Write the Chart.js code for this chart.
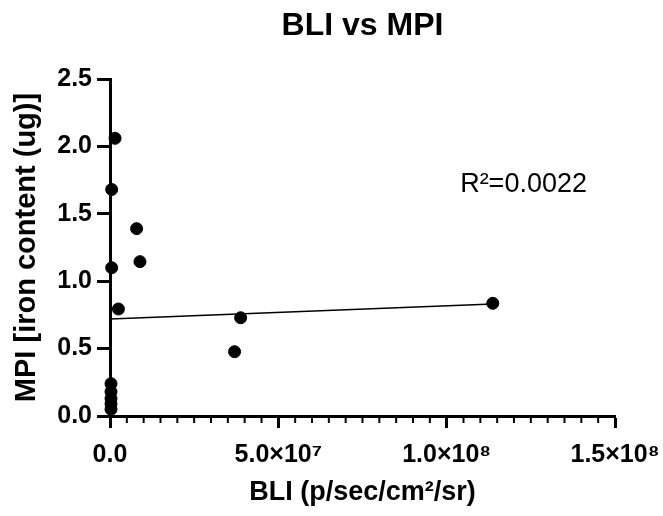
<!DOCTYPE html>
<html>
<head>
<meta charset="utf-8">
<script src="https://cdn.jsdelivr.net/npm/chart.js@4/dist/chart.umd.min.js"></script>
<style>
  body { margin: 0; background: #fff; }
</style>
</head>
<body>
<canvas id="bliChart" width="663" height="516"></canvas>
<script>
// values
var bliValues = [1.5e6, 0.5e6, 7.9e6, 8.9e6, 0.5e6, 2.5e6, 3.88e7, 3.70e7, 1.137e8, 0.3e6, 0.3e6, 0.3e6, 0.3e6, 0.3e6];
var mpiValues = [2.06, 1.68, 1.39, 1.145, 1.10, 0.794, 0.729, 0.477, 0.836, 0.24, 0.18, 0.13, 0.09, 0.05];

// linear fit as drawn in the reference
var fitX = [0, 1.137e8];
var fitY = [0.72, 0.831];

var xTickLabels = ['0.0', '5.0×10⁷', '1.0×10⁸', '1.5×10⁸'];
var rSquaredText = 'R²=0.0022';

var fontFamily = "'Liberation Sans', Arial, sans-serif";

function toPoints(xs, ys) {
  return xs.map(function (x, i) { return { x: x, y: ys[i] }; });
}

// small ticks between the labelled ones on the x axis
var minorTicks = {
  id: 'minorTicks',
  afterDraw: function (chart) {
    var ctx = chart.ctx;
    var xScale = chart.scales.x;
    var base = chart.chartArea.bottom;
    ctx.save();
    ctx.strokeStyle = '#000';
    ctx.lineWidth = 2;
    for (var v = 5e6; v < 1.5e8; v += 5e6) {
      if (Math.round(v / 5e6) % 10 === 0) continue;
      var px = xScale.getPixelForValue(v);
      ctx.beginPath();
      ctx.moveTo(px, base);
      ctx.lineTo(px, base + 7);
      ctx.stroke();
    }
    ctx.restore();
  }
};

var rSquaredLabel = {
  id: 'rSquaredLabel',
  afterDatasetsDraw: function (chart) {
    var ctx = chart.ctx;
    var px = chart.scales.x.getPixelForValue(1.04e8);
    var py = chart.scales.y.getPixelForValue(1.72);
    ctx.save();
    ctx.fillStyle = '#000';
    ctx.font = "27px " + fontFamily;
    ctx.textAlign = 'left';
    ctx.textBaseline = 'middle';
    ctx.fillText(rSquaredText, px, py);
    ctx.restore();
  }
};

var ctx = document.getElementById('bliChart').getContext('2d');
var chart = new Chart(ctx, {
  type: 'scatter',
  data: {
    datasets: [{
      label: 'MPI',
      data: toPoints(bliValues, mpiValues),
      backgroundColor: '#000',
      borderColor: '#000',
      pointRadius: 6,
      pointHoverRadius: 6,
      clip: false
    }, {
      type: 'line',
      label: 'fit',
      data: toPoints(fitX, fitY),
      borderColor: '#000',
      borderWidth: 1.5,
      pointRadius: 0,
      fill: false
    }]
  },
  options: {
    responsive: false,
    animation: false,
    layout: { padding: { left: 0, right: 48, top: 0, bottom: 0 } },
    plugins: {
      legend: { display: false },
      tooltip: { enabled: false },
      title: {
        display: true,
        text: 'BLI vs MPI',
        color: '#000',
        fullSize: false,
        font: { family: fontFamily, size: 32, weight: 'bold' },
        padding: { top: 7, bottom: 33.6 }
      }
    },
    scales: {
      x: {
        type: 'linear',
        min: 0,
        max: 1.5e8,
        afterFit: function (scale) {
          scale.height = 100;
          scale.paddingLeft = 0;
          scale.paddingRight = 0;
        },
        border: { display: true, color: '#000', width: 3 },
        grid: { drawOnChartArea: false, drawTicks: true, tickLength: 12, tickWidth: 3, tickColor: '#000' },
        ticks: {
          stepSize: 5e7,
          color: '#000',
          padding: 12,
          maxRotation: 0,
          font: { family: fontFamily, size: 25, weight: 'bold' },
          callback: function (v, i) { return xTickLabels[i]; }
        },
        title: {
          display: true,
          text: 'BLI (p/sec/cm²/sr)',
          color: '#000',
          font: { family: fontFamily, size: 27, weight: 'bold' },
          padding: { top: 0, bottom: 7 }
        }
      },
      y: {
        min: 0,
        max: 2.5,
        afterFit: function (scale) {
          scale.width = 110;
          scale.paddingTop = 0;
          scale.paddingBottom = 0;
        },
        border: { display: true, color: '#000', width: 3 },
        grid: { drawOnChartArea: false, drawTicks: true, tickLength: 13, tickWidth: 3, tickColor: '#000' },
        ticks: {
          stepSize: 0.5,
          color: '#000',
          padding: 5,
          font: { family: fontFamily, size: 25, weight: 'bold' },
          callback: function (v) { return v.toFixed(1); }
        },
        title: {
          display: true,
          text: 'MPI [iron content (ug)]',
          color: '#000',
          font: { family: fontFamily, size: 29, weight: 'bold' },
          padding: { top: 10, bottom: 0 }
        }
      }
    }
  },
  plugins: [minorTicks, rSquaredLabel]
});
</script>
</body>
</html>
